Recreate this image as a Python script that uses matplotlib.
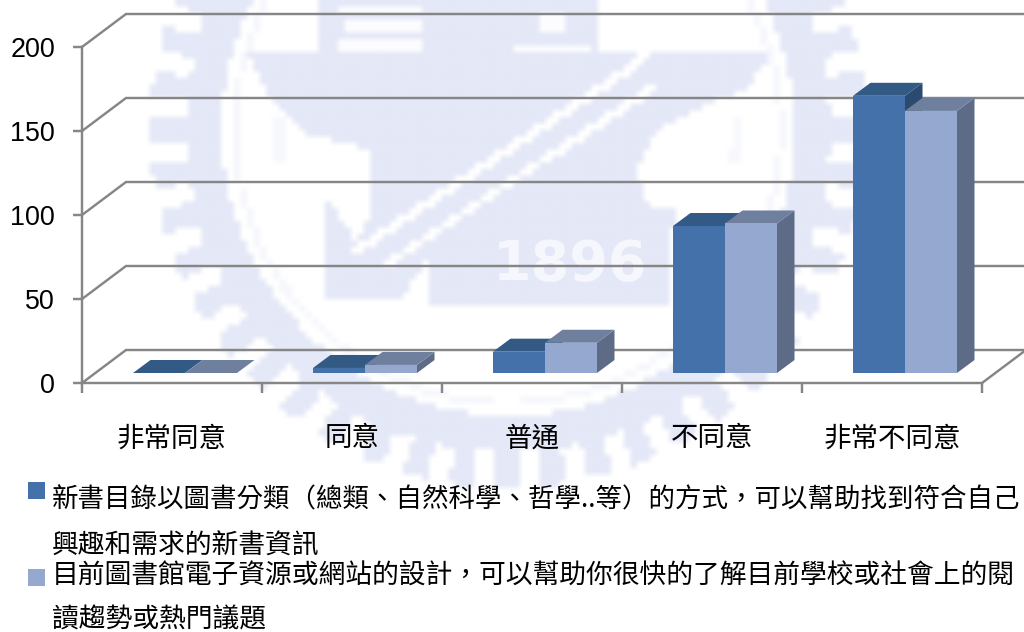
import numpy as np
import matplotlib
matplotlib.use("Agg")
import matplotlib.pyplot as plt
from matplotlib.patches import Polygon, Rectangle
from matplotlib.path import Path

categories = ["非常同意", "同意", "普通", "不同意", "非常不同意"]
series_a = [0, 3, 12.7, 87.5, 165]
series_b = [0, 4.8, 18, 89, 156]
y_ticks = [0, 50, 100, 150, 200]
legend_lines_a = ["新書目錄以圖書分類（總類、自然科學、哲學..等）的方式，可以幫助找到符合自己",
                  "興趣和需求的新書資訊"]
legend_lines_b = ["目前圖書館電子資源或網站的設計，可以幫助你很快的了解目前學校或社會上的閱",
                  "讀趨勢或熱門議題"]

W, H = 1024, 632
plt.rcParams['font.family'] = ['Noto Sans CJK TC', 'DejaVu Sans']
fig = plt.figure(figsize=(W / 100, H / 100), dpi=100, facecolor='white')

# ---- watermark (faint pale seal behind the chart), pixelated like the source
bg = fig.add_axes([0, 0, 1, 1], zorder=0)
bg.set_xlim(0, W); bg.set_ylim(H, 0); bg.axis('off')
B = 6.5
xs = np.arange(0, W + B, B) + B / 2
ys = np.arange(0, H + B, B) + B / 2
X, Y = np.meshgrid(xs, ys)
pts = np.column_stack([X.ravel(), Y.ravel()])
def poly(p):
    return Path(p).contains_points(pts).reshape(X.shape)
cx, cy = 508, 130
R = np.hypot(X - cx, Y - cy)
TH = np.arctan2(Y - cy, X - cx)
teeth = np.cos(TH * 48) > -0.1
mask = ((R > 286) & (R < 322)) | ((R >= 322) & (R < 358) & teeth)
mask = mask.astype(float)
mask[(R > 270) & (R < 276)] = 0.35
inner = poly([(250, 55), (770, 55), (745, 90), (690, 112), (655, 130), (636, 170),
              (650, 209), (678, 209), (672, 230), (672, 303), (430, 303), (430, 255),
              (400, 300), (327, 300), (327, 200), (355, 240), (372, 215), (372, 150),
              (310, 135), (275, 105)])
top = poly([(320, -5), (595, -5), (595, 60), (320, 60)])
mask[inner | top] = 1
for y0, y1, x0, x1 in [(5, 12, 340, 420), (20, 33, 345, 420), (42, 52, 340, 420),
                       (44, 50, 512, 590), (12, 30, 540, 565)]:
    mask[(Y > y0) & (Y < y1) & (X > x0) & (X < x1)] = 0.1
def stripe(x0, y0, x1, y1, w):
    t = np.clip(((X - x0) * (x1 - x0) + (Y - y0) * (y1 - y0)) / ((x1 - x0) ** 2 + (y1 - y0) ** 2), 0, 1)
    return np.hypot(X - (x0 + t * (x1 - x0)), Y - (y0 + t * (y1 - y0))) < w
mask[stripe(358, 250, 640, 62, 4)] = 0
mask[stripe(390, 262, 650, 90, 4)] = 0
mask[stripe(650, 45, 640, 62, 4)] = 0
mask[(np.abs(R - np.hypot(737 - cx, 140 - cy)) < 5) & (Y > 118) & (Y < 162)] = 0.3
rgba = np.ones(mask.shape + (4,))
rgba[..., 0] = 228 / 255; rgba[..., 1] = 232 / 255; rgba[..., 2] = 247 / 255
rgba[..., 3] = mask
bg.imshow(rgba, extent=(0, xs[-1] + B / 2, ys[-1] + B / 2, 0), interpolation='bilinear', aspect='auto')
bg.set_xlim(0, W); bg.set_ylim(H, 0)
bg.text(570, 265, "1896", fontsize=40, fontweight='bold', fontfamily=['DejaVu Sans'],
        color='#f6f7fc', ha='center', va='center')

# ---- chart axes: the front plane of the 3-D box
GRID = '#868686'
LW = 1.75
AX_L, AX_R, AX_T, AX_B = 82, 982, 47, 383
ax = fig.add_axes([AX_L / W, 1 - AX_B / H, (AX_R - AX_L) / W, (AX_B - AX_T) / H], zorder=1)
ax.patch.set_alpha(0)
n = len(categories)
ax.set_xlim(0, n); ax.set_ylim(0, 200)
for s in ('top', 'right'):
    ax.spines[s].set_visible(False)
for s in ('left', 'bottom'):
    ax.spines[s].set_color(GRID); ax.spines[s].set_linewidth(LW)

WALL_DX, WALL_DY = 44 / 180, 33 / 1.68
BAR_DX, BAR_DY = 17.5 / 180, 13 / 1.68
FLOOR = 10 / 1.68
OFFSET, BAR_W = 51 / 180, 52 / 180

for v in y_ticks:
    ax.plot([0, WALL_DX, n + WALL_DX], [v, v + WALL_DY, v + WALL_DY], color=GRID, lw=LW,
            clip_on=False, zorder=2, solid_joinstyle='miter')
ax.plot([n, n + WALL_DX], [0, WALL_DY], color=GRID, lw=LW, clip_on=False, zorder=2)

def box(i, v, front, top, side, z):
    x0 = i + OFFSET + z * BAR_W
    x1 = x0 + BAR_W
    base, h = FLOOR, FLOOR + v
    zz = 3 + 2 * z
    ax.add_patch(Polygon([(x1, base), (x1 + BAR_DX, base + BAR_DY), (x1 + BAR_DX, h + BAR_DY), (x1, h)],
                         fc=side, ec='none', clip_on=False, zorder=zz))
    ax.add_patch(Polygon([(x0, h), (x1, h), (x1 + BAR_DX, h + BAR_DY), (x0 + BAR_DX, h + BAR_DY)],
                         fc=top, ec='none', clip_on=False, zorder=zz))
    ax.bar(x0, v, BAR_W, bottom=base, align='edge', color=front, clip_on=False, zorder=zz + 0.5)

for i in range(n):
    box(i, series_a[i], '#4471a9', '#335a85', '#2b4a70', 0)
    box(i, series_b[i], '#95a8d0', '#6f809f', '#5d6b87', 1)

ax.set_yticks(y_ticks)
ax.set_yticklabels([str(v) for v in y_ticks], fontfamily=['Liberation Sans'], fontsize=19.4, color='black')
ax.tick_params(axis='y', length=6.5, width=LW, color=GRID, pad=13)
ax.set_xticks(np.arange(n + 1))
ax.set_xticklabels([])
ax.set_xticks(np.arange(n) + 0.5, minor=True)
ax.set_xticklabels(categories, minor=True, fontsize=19.8, color='black')
ax.tick_params(axis='x', which='major', length=7.2, width=LW, color=GRID)
ax.tick_params(axis='x', which='minor', length=0, pad=30.5)

# ---- legend
def px_text(x, y, s, size=19.3):
    fig.text(x / W, 1 - y / H, s, fontsize=size, va='center', ha='left', color='black')
px_text(52, 500, legend_lines_a[0], size=19.05); px_text(52, 546, legend_lines_a[1])
px_text(52, 576, legend_lines_b[0]); px_text(52, 620, legend_lines_b[1])
for y0, c in [(482, '#4471a9'), (569, '#95a8d0')]:
    fig.add_artist(Rectangle((28 / W, 1 - (y0 + 17) / H), 17 / W, 17 / H, fc=c, ec='none',
                             transform=fig.transFigure))

fig.savefig('out.png', dpi=100)
